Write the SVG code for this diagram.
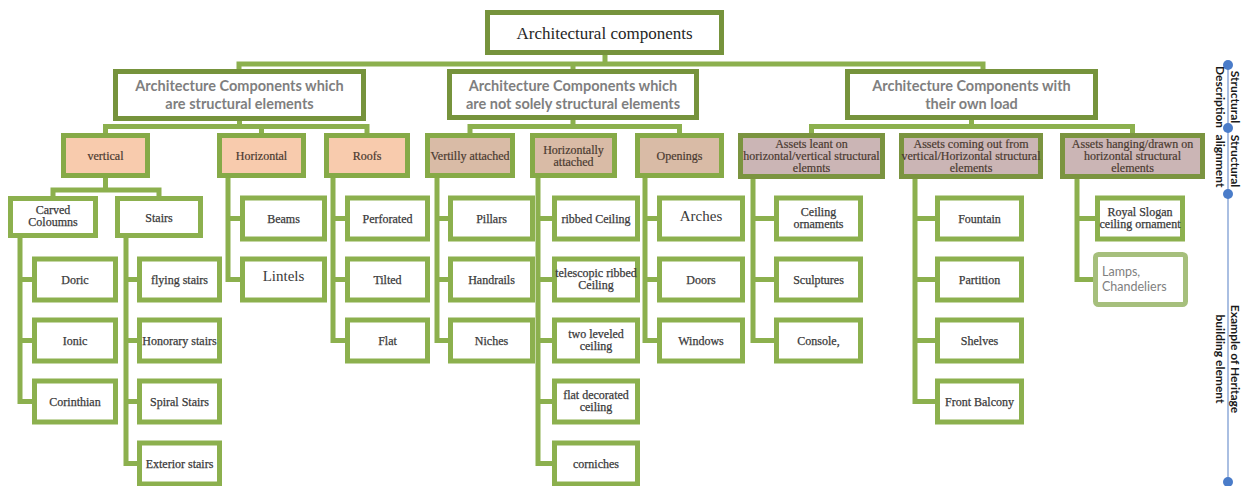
<svg xmlns="http://www.w3.org/2000/svg" width="1245" height="486" viewBox="0 0 1245 486">
<style>
.root{fill:#fff;stroke:#76933c;stroke-width:5}
.l1{fill:#fff;stroke:#76933c;stroke-width:5}
.pe{fill:#f8cbad;stroke:#86aa47;stroke-width:5}
.tn{fill:#d9bba6;stroke:#86aa47;stroke-width:5}
.mv{fill:#cbb5b5;stroke:#7b9440;stroke-width:5}
.lf{fill:#fff;stroke:#8cb04e;stroke-width:5}
.lp{fill:#fff;stroke:#a6bf7c;stroke-width:5}
.con path{fill:none;stroke:#8cb04e;stroke-width:5}
.tl{font-family:Lato,"Liberation Sans",sans-serif;font-weight:bold;font-size:14.5px;fill:#7f7f7f;text-anchor:middle}
.ts{font-family:"Liberation Serif",serif;font-size:12px;fill:#3a3a3a;stroke:#3a3a3a;stroke-width:0.25;text-anchor:middle}
.big{font-size:15px;stroke-width:0}
.tb{font-family:"Liberation Serif",serif;font-size:12px;fill:#4a3a30;stroke:#4a3a30;stroke-width:0.2;text-anchor:middle}
.tr{font-family:Lato,"Liberation Sans",sans-serif;font-weight:bold;font-size:12px;fill:#1a1a1a;text-anchor:middle}
</style>

<g id="connectors" class="con">
<path d="M605 55V64M239 70V64H983V70M573 64V70"/>
<path d="M239.5 121V126.5M105.5 133V126.5H367V133M261.5 126.5V133"/>
<path d="M573 120V126.5M470 133V126.5H679.5V133"/>
<path d="M971.5 120V126.5M811.5 133V126.5H1132.5V133"/>
<path d="M105.5 178V190M53 196V190H159V196"/>
<path d="M20 238V401.5H34M20 279.5H34M20 340.5H34"/>
<path d="M126 238V463.5H139M126 279.5H139M126 340.5H139M126 401.5H139"/>
<path d="M228 178V279.5H242M228 218.5H242"/>
<path d="M333 178V340.5H347M333 218.5H347M333 279.5H347"/>
<path d="M437 178V340.5H450M437 218.5H450M437 279.5H450"/>
<path d="M538 178V463.5H554M538 218.5H554M538 279.5H554M538 340.5H554M538 401.5H554"/>
<path d="M645 178V340.5H659M645 218.5H659M645 279.5H659"/>
<path d="M753 179V340.5H776M753 218.5H776M753 279.5H776"/>
<path d="M915 179V401.5H937M915 218.5H937M915 279.5H937M915 340.5H937"/>
<path d="M1077 179V279.5H1095M1077 218.5H1097"/>
</g>

<g id="n-root"><rect class="root" x="487.5" y="12.5" width="234" height="40"/><text x="604.5" y="39" font-family="'Liberation Serif',serif" font-size="17" fill="#262626" text-anchor="middle">Architectural components</text></g>

<g id="n-struct"><rect class="l1" x="115.5" y="71.5" width="248" height="47"/><text class="tl"><tspan x="239.5" y="91">Architecture Components which</tspan><tspan x="239.5" y="109">are structural elements</tspan></text></g>
<g id="n-notsolely"><rect class="l1" x="449.5" y="71.5" width="247" height="46"/><text class="tl"><tspan x="573" y="91">Architecture Components which</tspan><tspan x="573" y="109">are not solely structural elements</tspan></text></g>
<g id="n-ownload"><rect class="l1" x="847.5" y="71.5" width="248" height="46"/><text class="tl"><tspan x="971.5" y="91">Architecture Components with</tspan><tspan x="971.5" y="109">their own load</tspan></text></g>

<g id="n-vertical"><rect class="pe" x="63.5" y="135.5" width="84" height="40"/><text class="tb" x="105.5" y="160">vertical</text></g>
<g id="n-horizontal"><rect class="pe" x="219.5" y="135.5" width="84" height="40"/><text class="tb" x="261.5" y="160">Horizontal</text></g>
<g id="n-roofs"><rect class="pe" x="326.5" y="135.5" width="81" height="40"/><text class="tb" x="367" y="160">Roofs</text></g>
<g id="n-vertilly"><rect class="tn" x="427.5" y="135.5" width="85" height="40"/><text class="tb" x="470" y="160">Vertilly attached</text></g>
<g id="n-horizatt"><rect class="tn" x="532.5" y="135.5" width="82" height="40"/><text class="tb"><tspan x="573.5" y="154">Horizontally</tspan><tspan x="573.5" y="166">attached</tspan></text></g>
<g id="n-openings"><rect class="tn" x="637.5" y="135.5" width="84" height="40"/><text class="tb" x="679.5" y="160">Openings</text></g>
<g id="n-leant"><rect class="mv" x="740.5" y="135.5" width="142" height="41"/><text class="tb"><tspan x="811.5" y="148">Assets leant on</tspan><tspan x="811.5" y="160">horizontal/vertical structural</tspan><tspan x="811.5" y="172">elemnts</tspan></text></g>
<g id="n-comingout"><rect class="mv" x="901.5" y="135.5" width="139" height="41"/><text class="tb"><tspan x="971" y="148">Assets coming out from</tspan><tspan x="971" y="160">vertical/Horizontal structural</tspan><tspan x="971" y="172">elements</tspan></text></g>
<g id="n-hanging"><rect class="mv" x="1062.5" y="135.5" width="140" height="41"/><text class="tb"><tspan x="1132.5" y="148">Assets hanging/drawn on</tspan><tspan x="1132.5" y="160">horizontal structural</tspan><tspan x="1132.5" y="172">elements</tspan></text></g>

<g id="n-carved"><rect class="lf" x="10.5" y="198.5" width="85" height="37"/><text class="ts"><tspan x="53" y="214">Carved</tspan><tspan x="53" y="226">Coloumns</tspan></text></g>
<g id="n-stairs"><rect class="lf" x="117.5" y="198.5" width="83" height="37"/><text class="ts" x="159" y="222">Stairs</text></g>

<g id="n-doric"><rect class="lf" x="34.5" y="259" width="81" height="41"/><text class="ts" x="75" y="283.5">Doric</text></g>
<g id="n-ionic"><rect class="lf" x="34.5" y="320" width="81" height="41"/><text class="ts" x="75" y="344.5">Ionic</text></g>
<g id="n-corinthian"><rect class="lf" x="34.5" y="381" width="81" height="41"/><text class="ts" x="75" y="405.5">Corinthian</text></g>

<g id="n-flying"><rect class="lf" x="139.5" y="259" width="80" height="41"/><text class="ts" x="179.5" y="283.5">flying stairs</text></g>
<g id="n-honorary"><rect class="lf" x="139.5" y="320" width="80" height="41"/><text class="ts" x="179.5" y="344.5">Honorary stairs</text></g>
<g id="n-spiral"><rect class="lf" x="139.5" y="381" width="80" height="41"/><text class="ts" x="179.5" y="405.5">Spiral Stairs</text></g>
<g id="n-exterior"><rect class="lf" x="139.5" y="443" width="80" height="41"/><text class="ts" x="179.5" y="467.5">Exterior stairs</text></g>

<g id="n-beams"><rect class="lf" x="242.5" y="198" width="82" height="41"/><text class="ts" x="283.5" y="222.5">Beams</text></g>
<g id="n-lintels"><rect class="lf" x="242.5" y="259" width="82" height="41"/><text class="ts big" x="283.5" y="281">Lintels</text></g>

<g id="n-perforated"><rect class="lf" x="347.5" y="198" width="80" height="41"/><text class="ts" x="387.5" y="222.5">Perforated</text></g>
<g id="n-tilted"><rect class="lf" x="347.5" y="259" width="80" height="41"/><text class="ts" x="387.5" y="283.5">Tilted</text></g>
<g id="n-flat"><rect class="lf" x="347.5" y="320" width="80" height="41"/><text class="ts" x="387.5" y="344.5">Flat</text></g>

<g id="n-pillars"><rect class="lf" x="450.5" y="198" width="82" height="41"/><text class="ts" x="491.5" y="222.5">Pillars</text></g>
<g id="n-handrails"><rect class="lf" x="450.5" y="259" width="82" height="41"/><text class="ts" x="491.5" y="283.5">Handrails</text></g>
<g id="n-niches"><rect class="lf" x="450.5" y="320" width="82" height="41"/><text class="ts" x="491.5" y="344.5">Niches</text></g>

<g id="n-ribbed"><rect class="lf" x="554.5" y="198" width="83" height="41"/><text class="ts" x="596" y="222.5">ribbed Ceiling</text></g>
<g id="n-telescopic"><rect class="lf" x="554.5" y="259" width="83" height="41"/><text class="ts"><tspan x="596" y="277">telescopic ribbed</tspan><tspan x="596" y="289">Ceiling</tspan></text></g>
<g id="n-twoleveled"><rect class="lf" x="554.5" y="320" width="83" height="41"/><text class="ts"><tspan x="596" y="338">two leveled</tspan><tspan x="596" y="350">ceiling</tspan></text></g>
<g id="n-flatdecorated"><rect class="lf" x="554.5" y="381" width="83" height="41"/><text class="ts"><tspan x="596" y="399">flat decorated</tspan><tspan x="596" y="411">ceiling</tspan></text></g>
<g id="n-corniches"><rect class="lf" x="554.5" y="443" width="83" height="41"/><text class="ts" x="596" y="467.5">corniches</text></g>

<g id="n-arches"><rect class="lf" x="659.5" y="198" width="83" height="41"/><text class="ts big" x="701" y="221">Arches</text></g>
<g id="n-doors"><rect class="lf" x="659.5" y="259" width="83" height="41"/><text class="ts" x="701" y="283.5">Doors</text></g>
<g id="n-windows"><rect class="lf" x="659.5" y="320" width="83" height="41"/><text class="ts" x="701" y="344.5">Windows</text></g>

<g id="n-ceilingorn"><rect class="lf" x="776.5" y="198" width="84" height="41"/><text class="ts"><tspan x="818.5" y="216">Ceiling</tspan><tspan x="818.5" y="228">ornaments</tspan></text></g>
<g id="n-sculptures"><rect class="lf" x="776.5" y="259" width="84" height="41"/><text class="ts" x="818.5" y="283.5">Sculptures</text></g>
<g id="n-console"><rect class="lf" x="776.5" y="320" width="84" height="41"/><text class="ts" x="818.5" y="344.5">Console,</text></g>

<g id="n-fountain"><rect class="lf" x="937.5" y="198" width="84" height="41"/><text class="ts" x="979.5" y="222.5">Fountain</text></g>
<g id="n-partition"><rect class="lf" x="937.5" y="259" width="84" height="41"/><text class="ts" x="979.5" y="283.5">Partition</text></g>
<g id="n-shelves"><rect class="lf" x="937.5" y="320" width="84" height="41"/><text class="ts" x="979.5" y="344.5">Shelves</text></g>
<g id="n-balcony"><rect class="lf" x="937.5" y="381" width="84" height="41"/><text class="ts" x="979.5" y="405.5">Front Balcony</text></g>

<g id="n-royal"><rect class="lf" x="1097.5" y="198" width="85" height="41"/><text class="ts"><tspan x="1140" y="216">Royal Slogan</tspan><tspan x="1140" y="228">ceiling ornament</tspan></text></g>
<g id="n-lamps"><rect class="lp" x="1095.5" y="254.5" width="90" height="50" rx="3"/><text font-family="Lato,'Liberation Sans',sans-serif" font-size="12.5" fill="#7f7f7f"><tspan x="1102" y="276">Lamps,</tspan><tspan x="1102" y="291">Chandeliers</tspan></text></g>

<g id="timeline">
<line x1="1228" y1="65" x2="1228" y2="482" stroke="#8eaad8" stroke-width="1.5"/>
<circle cx="1228" cy="65" r="5" fill="#4a7cc9"/>
<circle cx="1228" cy="128" r="5" fill="#4a7cc9"/>
<circle cx="1228" cy="194" r="5" fill="#4a7cc9"/>
<circle cx="1228" cy="482" r="5" fill="#4a7cc9"/>
<text class="tr" transform="translate(1228,97) rotate(90)"><tspan x="0" y="-3">Structural</tspan><tspan x="0" y="12">Description</tspan></text>
<text class="tr" transform="translate(1228,161) rotate(90)"><tspan x="0" y="-3">Structural</tspan><tspan x="0" y="12">alignment</tspan></text>
<text class="tr" transform="translate(1228,359) rotate(90)"><tspan x="0" y="-3">Example of Heritage</tspan><tspan x="0" y="12">building element</tspan></text>
</g>
</svg>
